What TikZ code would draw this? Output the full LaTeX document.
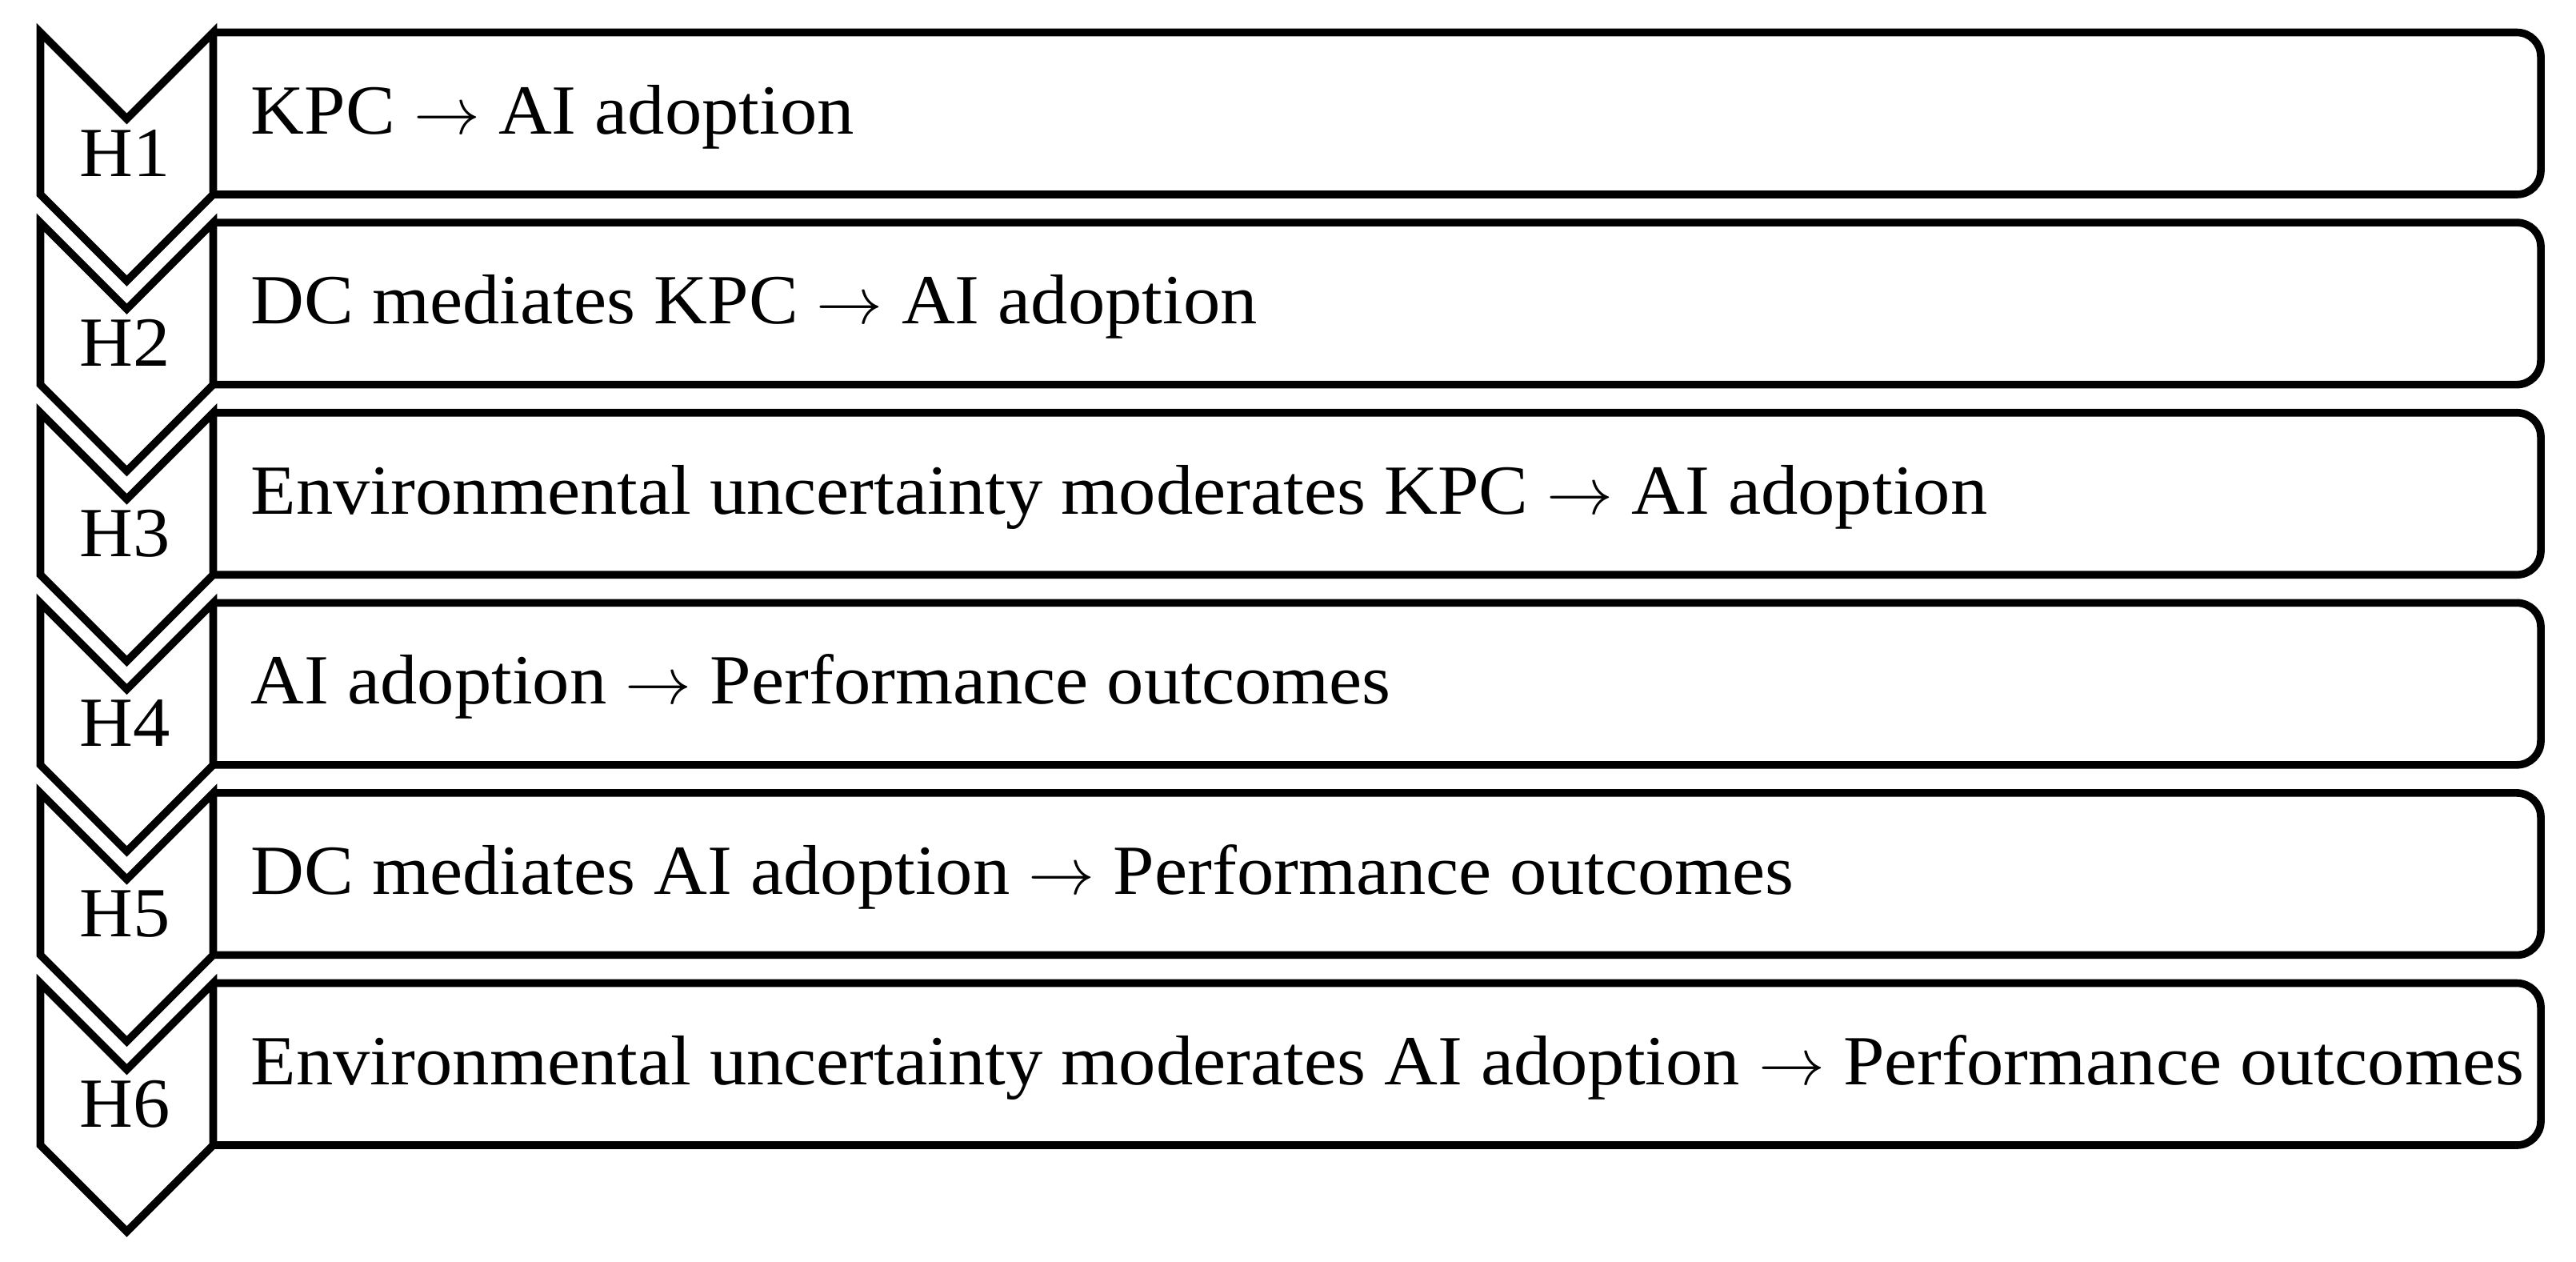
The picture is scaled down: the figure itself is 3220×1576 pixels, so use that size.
\documentclass[tikz,border=0pt]{standalone}
\usepackage{fontspec}
\setmainfont{Liberation Serif}[FakeStretch=1.052]
\newcommand{\arr}{$\rightarrow$}
\begin{document}
\begin{tikzpicture}[x=0.25pt,y=-0.25pt,
  shape line/.style={line width=2.4pt, line join=miter, miter limit=10},
  box line/.style={line width=2.4pt, rounded corners=7.5pt},
  hlabel/.style={inner sep=0pt, anchor=base, font=\fontsize{22}{26}\selectfont},
  btext/.style={inner sep=0pt, anchor=base west, font=\fontsize{22}{26}\selectfont}]
\useasboundingbox (0,0) rectangle (3220,1576);
\foreach \i/\txt in {0/{KPC \arr{} AI adoption},
  1/{DC mediates KPC \arr{} AI adoption},
  2/{Environmental uncertainty moderates KPC \arr{} AI adoption},
  3/{AI adoption \arr{} Performance outcomes},
  4/{DC mediates AI adoption \arr{} Performance outcomes},
  5/{Environmental uncertainty moderates AI adoption \arr{} Performance outcomes}}{
  \pgfmathsetmacro{\t}{40.5+237.6*\i}
  \pgfmathsetmacro{\b}{\t+202.5}
  \pgfmathsetmacro{\n}{\t+108}
  \pgfmathsetmacro{\p}{\b+108}
  \draw[box line] (267,\t) -| (3176,\b) -- (267,\b);
  \draw[shape line] (50.5,\t) -- (158.5,\n) -- (266.5,\t) -- (266.5,\b) -- (158.5,\p) -- (50.5,\b) -- cycle;
  \pgfmathtruncatemacro{\k}{\i+1}
  \node[hlabel] (h\k) at (156,\t+179.5) {H\k};
  \node[btext] (t\k) at (313,\t+126.5) {\txt};
}
\end{tikzpicture}
\end{document}
